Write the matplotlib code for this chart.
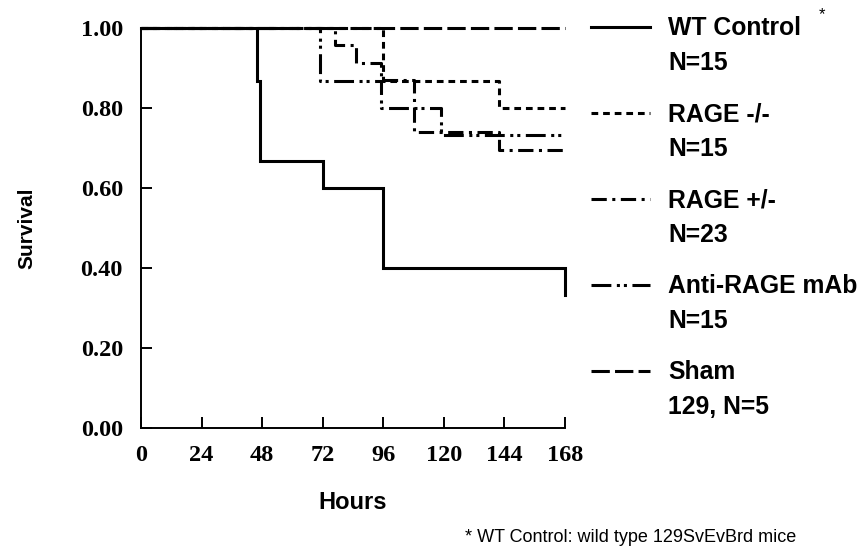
"""Kaplan-Meier style survival curves: WT vs RAGE groups over 168 h."""

import matplotlib

matplotlib.use("Agg")
import matplotlib.pyplot as plt
from matplotlib.lines import Line2D

# step curves (hours at which survival changes, survival fraction after that time)
wt_hours = [0, 46, 47, 72, 96, 168]
wt_surv = [1.0, 0.867, 0.667, 0.600, 0.400, 0.333]

rage_ko_hours = [0, 96, 142, 168]
rage_ko_surv = [1.0, 0.867, 0.800, 0.800]

rage_het_hours = [0, 77, 85, 95, 108, 142, 168]
rage_het_surv = [1.0, 0.957, 0.913, 0.870, 0.739, 0.696, 0.696]

anti_hours = [0, 71, 95, 119, 168]
anti_surv = [1.0, 0.867, 0.800, 0.733, 0.733]

sham_hours = [0, 168]
sham_surv = [1.0, 1.0]

x_ticks = [0, 24, 48, 72, 96, 120, 144, 168]
y_ticks = [0.0, 0.2, 0.4, 0.6, 0.8, 1.0]

legend_names = ["WT Control", "RAGE -/-", "RAGE +/-", "Anti-RAGE mAb", "Sham"]
legend_counts = ["N=15", "N=15", "N=23", "N=15", "129, N=5"]

LW = 2.2
STYLES = [
    "-",
    (0, (2.2, 1.6)),
    (0, (5.0, 1.8, 1.0, 1.8)),
    (0, (6.5, 1.8, 1.0, 1.3, 1.0, 1.8)),
    (0, (6.0, 1.7)),
]

W, H = 867, 548
SERIF = ["Liberation Serif", "DejaVu Serif"]
SANS = ["Liberation Sans", "DejaVu Sans"]


def fy(py):
    return 1 - py / H


def fx(px):
    return px / W


fig = plt.figure(figsize=(W / 100, H / 100), dpi=100)
ax = fig.add_axes([fx(141), fy(428), fx(565) - fx(141), fy(28) - fy(428)])

series = [
    (wt_hours, wt_surv),
    (rage_ko_hours, rage_ko_surv),
    (rage_het_hours, rage_het_surv),
    (anti_hours, anti_surv),
    (sham_hours, sham_surv),
]
for (hours, surv), ls in zip(series, STYLES):
    ax.step(hours, surv, where="post", color="black", lw=LW, ls=ls,
            clip_on=False, solid_joinstyle="miter", dash_capstyle="butt")

ax.set_xlim(0, 168)
ax.set_ylim(0, 1.0)
ax.set_xticks(x_ticks)
ax.set_yticks(y_ticks)
ax.set_yticklabels([f"{v:.2f}" for v in y_ticks])
for side in ("top", "right"):
    ax.spines[side].set_visible(False)
for side in ("left", "bottom"):
    ax.spines[side].set_linewidth(1.4)
ax.tick_params(direction="in", length=8, width=1.4)
ax.tick_params(axis="y", pad=13)
ax.tick_params(axis="x", pad=12)
for lab in ax.get_xticklabels() + ax.get_yticklabels():
    lab.set_family(SERIF)
    lab.set_fontweight("bold")
    lab.set_fontsize(17.5)

ax.set_xlabel("Hours", family=SANS, fontweight="bold", fontsize=17, labelpad=18)
ax.set_ylabel("Survival", family=SANS, fontweight="bold", fontsize=15, labelpad=32)

# hand-placed legend: handle next to the first text line of each entry
for i, (name, count, ls) in enumerate(zip(legend_names, legend_counts, STYLES)):
    y0 = 28 + i * 86
    fig.add_artist(Line2D([fx(591), fx(650)], [fy(y0 - 1), fy(y0 - 1)],
                          color="black", lw=LW, ls=ls, dash_capstyle="butt"))
    fig.text(fx(668), fy(y0), name, family=SANS, fontweight="bold",
             fontsize=17.8, va="center", ha="left")
    fig.text(fx(668), fy(y0 + 35), count, family=SANS, fontweight="bold",
             fontsize=17.8, va="center", ha="left")
fig.text(fx(819), fy(15), "*", family=SANS, fontsize=12, va="center", ha="left")

fig.text(fx(465), fy(538), "* WT Control: wild type 129SvEvBrd mice",
         family=SANS, fontsize=13, va="center", ha="left")

fig.savefig("out.png", dpi=100, facecolor="white")
